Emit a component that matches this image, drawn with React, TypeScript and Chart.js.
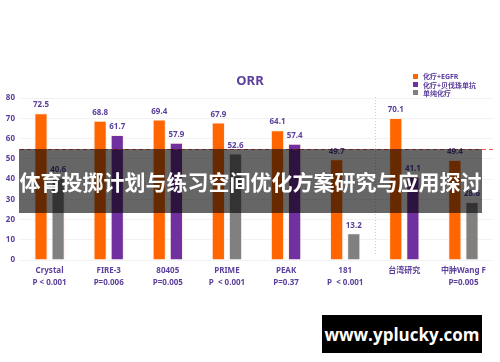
import React, { useEffect, useRef } from "react";
import { Chart, registerables } from "chart.js";
Chart.register(...registerables);

const categories = ["Crystal", "FIRE-3", "80405", "PRIME", "PEAK", "181", "台湾研究", "中肿Wang F"];
const pValues = ["P < 0.001", "P=0.006", "P=0.005", "P  < 0.001", "P=0.37", "P  < 0.001", "", "P=0.005"];
const seriesNames = ["化疗+EGFR", "化疗+贝伐珠单抗", "单纯化疗"];
const egfrValues = [72.5, 68.8, 69.4, 67.9, 64.1, 49.7, 70.1, 49.4];
const bevValues = [null, 61.7, 57.9, null, 57.4, null, 41.1, null];
const chemoValues = [40.6, null, null, 52.6, null, 13.2, null, 28.6];
const yTicks = [0, 10, 20, 30, 40, 50, 60, 70, 80];
const referenceValue = 55;
const dividerAfterIndex = 5;
const titleText = "ORR";
const bannerText = "体育投掷计划与练习空间优化方案研究与应用探讨";
const watermarkText = "www.yplucky.com";

const seriesColors = ["#FF6600", "#7030A0", "#808080"];
const textPurple = "#5b3f9c";
const FONT = '"Noto Sans", "Noto Sans CJK SC", sans-serif';

const overlayPlugin = {
  id: "overlayPlugin",
  afterDatasetsDraw(chart: any) {
    const ctx = chart.ctx;
    const xs = chart.scales.x;
    const ys = chart.scales.y;
    const area = chart.chartArea;
    ctx.save();
    // divider line
    const xDiv = (xs.getPixelForValue(dividerAfterIndex) + xs.getPixelForValue(dividerAfterIndex + 1)) / 2;
    ctx.strokeStyle = "#cdc8e4";
    ctx.lineWidth = 1;
    ctx.setLineDash([1, 2]);
    ctx.beginPath();
    ctx.moveTo(Math.round(xDiv) + 0.5, area.top - 1);
    ctx.lineTo(Math.round(xDiv) + 0.5, area.bottom - 4);
    ctx.stroke();
    // reference line
    const yRef = ys.getPixelForValue(referenceValue);
    ctx.strokeStyle = "#ff5a5a";
    ctx.setLineDash([4, 3]);
    ctx.beginPath();
    ctx.moveTo(area.left, Math.round(yRef) + 0.5);
    ctx.lineTo(area.right, Math.round(yRef) + 0.5);
    ctx.stroke();
    ctx.setLineDash([]);
    // value labels
    ctx.fillStyle = textPurple;
    ctx.font = `bold 8px ${FONT}`;
    ctx.textAlign = "center";
    ctx.textBaseline = "bottom";
    chart.data.datasets.forEach((ds: any, i: number) => {
      const meta = chart.getDatasetMeta(i);
      meta.data.forEach((el: any, j: number) => {
        const v = ds.data[j];
        if (v === null || v === undefined) return;
        ctx.fillText(v.toFixed(1), el.x, el.y - 4);
      });
    });
    ctx.restore();
  },
};

export default function App() {
  const canvasRef = useRef<HTMLCanvasElement | null>(null);

  useEffect(() => {
    if (!canvasRef.current) return;
    const datasetValues = [egfrValues, bevValues, chemoValues];
    const chart = new Chart(canvasRef.current, {
      type: "bar",
      data: {
        labels: categories.map((c, i) => [c, pValues[i]]),
        datasets: datasetValues.map((vals, i) => ({
          label: seriesNames[i],
          data: vals as any,
          backgroundColor: seriesColors[i],
          borderColor: "rgba(255,235,225,0.9)",
          borderWidth: 1,
          skipNull: true,
          categoryPercentage: 0.58,
          barPercentage: 0.77,
        })),
      },
      options: {
        responsive: false,
        animation: false,
        layout: { padding: { top: 98, right: 7, left: 0, bottom: 0 } },
        plugins: {
          legend: { display: false },
          title: { display: false },
          tooltip: { enabled: false },
        },
        scales: {
          x: {
            grid: { display: false, drawTicks: false },
            border: { display: false },
            ticks: {
              color: textPurple,
              font: { family: FONT, size: 8, weight: "bold", lineHeight: 1.6 },
              padding: 4,
              maxRotation: 0,
              autoSkip: false,
            },
            afterFit(scale: any) {
              scale.height = 102;
            },
          },
          y: {
            min: 0,
            max: 80,
            afterBuildTicks(scale: any) {
              scale.ticks = yTicks.map((v) => ({ value: v }));
            },
            grid: { color: "#f2f2f2", drawTicks: false },
            border: { display: false },
            ticks: {
              color: textPurple,
              font: { family: FONT, size: 8, weight: "bold" },
              padding: 5,
            },
            afterFit(scale: any) {
              scale.width = 20;
            },
          },
        },
      },
      plugins: [overlayPlugin],
    } as any);
    return () => chart.destroy();
  }, []);

  return (
    <div style={{ position: "fixed", left: 0, top: 0, width: 500, height: 362, background: "#ffffff", overflow: "hidden", fontFamily: FONT }}>
      <canvas ref={canvasRef} width={500} height={362} style={{ position: "absolute", left: 0, top: 0, width: 500, height: 362 }} />
      <div style={{ position: "absolute", left: 200, width: 100, top: 70, textAlign: "center", color: textPurple, fontWeight: "bold", fontSize: 13, lineHeight: "20px" }}>
        {titleText}
      </div>
      <div style={{ position: "absolute", left: 413, top: 72 }}>
        {seriesNames.map((n, i) => (
          <div key={n} style={{ display: "flex", alignItems: "center", height: 8.4, fontSize: 7, fontWeight: "bold", color: textPurple, whiteSpace: "nowrap" }}>
            <span style={{ display: "inline-block", width: 5, height: 5, background: seriesColors[i], marginRight: 5 }} />
            {n}
          </div>
        ))}
      </div>
      <div style={{ position: "absolute", left: 19, top: 149, width: 463, height: 64, background: "rgba(0,0,0,0.6)", display: "flex", alignItems: "center", justifyContent: "center", color: "#ffffff", fontWeight: "bold", fontSize: 21, whiteSpace: "nowrap", fontFamily: '"Noto Sans CJK SC", sans-serif' }}>
        {bannerText}
      </div>
      <div style={{ position: "absolute", left: 322, top: 315, width: 160, height: 38, background: "#000000", display: "flex", alignItems: "center", justifyContent: "center", color: "#ffffff", fontWeight: "bold", fontSize: 17, whiteSpace: "nowrap", fontFamily: '"Open Sans", sans-serif' }}>
        {watermarkText}
      </div>
    </div>
  );
}
